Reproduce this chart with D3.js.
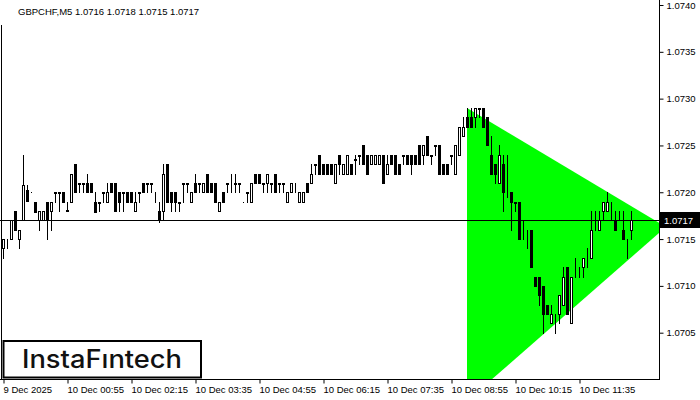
<!DOCTYPE html>
<html><head><meta charset="utf-8">
<script src="https://cdn.jsdelivr.net/npm/d3@7"></script>
<style>
html,body{margin:0;padding:0;background:#fff;}
svg{display:block;}
</style></head>
<body>
<svg id="c" width="700" height="400"></svg>
<script>
const symbolTitle = "GBPCHF,M5  1.0716 1.0718 1.0715 1.0717";
const openP = [
1.0714,1.07141,1.0715,1.0718,1.0715,1.0717,1.07202,1.072,1.0719,1.0717,
1.0717,1.0719,1.0718,1.072,1.072,1.072,1.07181,1.0719,1.0723,1.0721,
1.07209,1.0721,1.0721,1.0719,1.0719,1.072,1.0719,1.0721,1.0721,1.072,
1.072,1.072,1.072,1.0718,1.072,1.0721,1.0721,1.07209,1.0719,1.0718,
1.0718,1.0723,1.072,1.072,1.0719,1.0721,1.0721,1.0719,1.0721,1.0721,
1.072,1.0722,1.0721,1.0721,1.0718,1.072,1.0721,1.0721,1.0721,1.0721,
1.0719,1.072,1.0719,1.0722,1.0722,1.0721,1.0721,1.0721,1.0722,1.0721,
1.0721,1.0719,1.072,1.07205,1.0719,1.0719,1.0721,1.0721,1.0723,1.0724,
1.0723,1.0723,1.0723,1.0721,1.0724,1.0722,1.0722,1.0723,1.07235,1.0724,
1.0725,1.0724,1.0723,1.0723,1.0723,1.0724,1.0722,1.0724,1.0724,1.0723,
1.0724,1.0724,1.0724,1.0724,1.0725,1.0724,1.0726,1.0724,1.0725,1.0725,
1.0723,1.0723,1.0724,1.0722,1.0724,1.0726,1.0728,1.0728,1.0728,1.0729,
1.0729,1.0728,1.0724,1.0723,1.0721,1.0723,1.0721,1.072,1.0719,1.0719,
1.07167,1.07155,1.0716,1.0711,1.0711,1.071,1.0708,1.0706,1.0706,1.0707,
1.0708,1.0712,1.0706,1.0712,1.0712,1.0712,1.0712,1.0713,1.0717,1.0716,
1.0718,1.0718,1.0718,1.0717,1.0717,1.0716,1.0715,1.0716];
const highP = [
1.0715,1.0715,1.0717,1.0718,1.0716,1.0724,1.07208,1.072,1.0719,1.0718,
1.0718,1.0719,1.0719,1.072,1.072,1.072,1.0719,1.0722,1.0723,1.0721,
1.0721,1.0722,1.0721,1.072,1.0719,1.072,1.0721,1.0721,1.0721,1.072,
1.072,1.072,1.072,1.072,1.072,1.0721,1.0721,1.0721,1.072,1.0719,
1.0723,1.0723,1.072,1.072,1.0719,1.0721,1.0721,1.072,1.0722,1.0721,
1.0721,1.0722,1.0721,1.0721,1.0719,1.072,1.0721,1.0722,1.0722,1.0721,
1.0719,1.072,1.0721,1.0722,1.0722,1.0721,1.0722,1.0721,1.0722,1.0721,
1.0721,1.072,1.0721,1.0721,1.072,1.072,1.0721,1.0723,1.0723,1.0724,
1.0723,1.0723,1.0723,1.0723,1.0724,1.0723,1.0724,1.0723,1.0724,1.0724,
1.0725,1.0724,1.0724,1.0724,1.0724,1.0724,1.0724,1.0724,1.0724,1.0723,
1.0724,1.0724,1.0724,1.0724,1.0725,1.0725,1.0726,1.0724,1.0725,1.0725,
1.0723,1.0723,1.0724,1.0725,1.0727,1.0728,1.0729,1.0729,1.0729,1.0729,
1.0729,1.0728,1.0726,1.0723,1.0725,1.0724,1.0724,1.072,1.0719,1.0719,
1.0717,1.0716,1.0716,1.0711,1.0711,1.071,1.0708,1.0708,1.0707,1.0709,
1.0712,1.0712,1.0711,1.0713,1.0712,1.0713,1.0714,1.0718,1.0718,1.0718,
1.0719,1.072,1.0719,1.0718,1.0718,1.0718,1.0715,1.0718];
const lowP = [
1.0713,1.0714,1.0715,1.0716,1.0714,1.0717,1.07191,1.072,1.07179,1.0716,
1.0717,1.0715,1.0716,1.0719,1.0718,1.0719,1.0718,1.0719,1.072,1.072,
1.072,1.072,1.072,1.07179,1.0718,1.0719,1.0719,1.072,1.0718,1.0718,
1.0718,1.0719,1.0719,1.0718,1.0719,1.072,1.072,1.072,1.0719,1.07168,
1.0717,1.0719,1.0718,1.0718,1.0718,1.0719,1.072,1.0719,1.072,1.072,
1.072,1.072,1.072,1.0719,1.0718,1.0719,1.072,1.072,1.072,1.072,
1.0719,1.0719,1.0719,1.0721,1.0721,1.072,1.072,1.072,1.072,1.072,
1.072,1.0719,1.072,1.072,1.0719,1.0719,1.072,1.0721,1.0722,1.0722,
1.0722,1.0722,1.0722,1.0721,1.0722,1.0722,1.0722,1.0722,1.0722,1.0723,
1.0723,1.0722,1.0723,1.0723,1.0723,1.0721,1.0722,1.0723,1.0722,1.0722,
1.0723,1.0723,1.0722,1.0723,1.0723,1.0723,1.0724,1.0723,1.0724,1.0722,
1.0722,1.0722,1.0723,1.0722,1.0724,1.0726,1.0727,1.0727,1.0727,1.0728,
1.0727,1.0725,1.0722,1.0721,1.0721,1.0718,1.07195,1.0716,1.0718,1.0715,
1.0715,1.0714,1.0712,1.071,1.0708,1.0705,1.0707,1.0706,1.0705,1.0706,
1.0708,1.0707,1.0706,1.0711,1.0711,1.0711,1.0712,1.0713,1.0716,1.0716,
1.0717,1.0718,1.0717,1.0716,1.0717,1.0715,1.0713,1.0715];
const closeP = [
1.0715,1.07141,1.0717,1.0716,1.0716,1.07208,1.07191,1.072,1.07179,1.0718,
1.0718,1.0717,1.0719,1.07199,1.07199,1.0719,1.0718,1.0722,1.072,1.07209,
1.0721,1.072,1.072,1.07179,1.07189,1.07199,1.072,1.072,1.0718,1.0719,
1.07199,1.0719,1.0719,1.0719,1.07199,1.072,1.07209,1.0721,1.0719,1.0717,
1.0722,1.0719,1.0719,1.0719,1.07189,1.07209,1.07209,1.072,1.072,1.07209,
1.0721,1.072,1.072,1.0719,1.0719,1.0719,1.07209,1.0721,1.07209,1.07209,
1.0719,1.07199,1.0721,1.0721,1.0721,1.07209,1.0722,1.07209,1.072,1.07209,
1.07209,1.072,1.0721,1.07205,1.072,1.072,1.072,1.0722,1.07229,1.0722,
1.0722,1.0722,1.0722,1.0723,1.0723,1.0723,1.0724,1.0722,1.07234,1.07239,
1.0723,1.0722,1.0724,1.0724,1.0724,1.0721,1.0723,1.0723,1.0722,1.0722,
1.07239,1.0723,1.0723,1.0723,1.0723,1.0725,1.0724,1.07239,1.07249,1.0722,
1.0722,1.0722,1.07239,1.0725,1.0727,1.0727,1.0727,1.0727,1.0729,1.07289,
1.0727,1.0725,1.0722,1.0722,1.0724,1.072,1.0721,1.0719,1.07189,1.0715,
1.07167,1.07155,1.0712,1.071,1.0709,1.0707,1.0707,1.0707,1.0706,1.0709,
1.0711,1.0707,1.0711,1.0712,1.0712,1.0713,1.0712,1.0716,1.0717,1.0717,
1.0719,1.0719,1.0718,1.0716,1.0717,1.0715,1.0715,1.0717];

const timeTickBars = [0, 16, 32, 48, 64, 80, 96, 112, 128, 144];
const timeTickLabels = ["9 Dec 2025","10 Dec 00:55","10 Dec 02:15","10 Dec 03:35","10 Dec 04:55",
  "10 Dec 06:15","10 Dec 07:35","10 Dec 08:55","10 Dec 10:15","10 Dec 11:35"];
const priceTicks = [1.0705,1.0710,1.0715,1.0720,1.0725,1.0730,1.0735,1.0740];
const currentPrice = 1.0717;
const triangleBars = [116, 165.75, 116];
const trianglePrices = [1.0729, 1.07163, 1.06977];
const logoText = "InstaF\u0131ntech";

const W = 700, H = 400, plotR = 659, plotB = 379;
const svg = d3.select("#c");
const x = d3.scaleLinear().domain([-0.75, 164]).range([0, plotR]);
const y = d3.scaleLinear().domain([1.0700, 1.0740]).range([379.5, 5]);
const FONT = "'Liberation Sans', Arial, sans-serif";

svg.append("rect").attr("width", W).attr("height", H).attr("fill", "#fff");
svg.append("defs").append("clipPath").attr("id","plot")
  .append("rect").attr("x",0).attr("y",0).attr("width",plotR).attr("height",plotB);

// triangle pattern
const triPts = triangleBars.map((b,i)=>[x(b), y(trianglePrices[i])]);
svg.append("g").attr("clip-path","url(#plot)")
  .append("path")
  .attr("d", d3.line()(triPts) + "Z")
  .attr("fill", "#00ff00");

// candles
const n = openP.length;
const data = d3.range(n).map(i=>({i, o:openP[i], h:highP[i], l:lowP[i], c:closeP[i]}));
const cg = svg.append("g").attr("clip-path","url(#plot)");
data.forEach(d=>{
  const cx = Math.round(x(d.i)) + 0.5;
  const yh = Math.round(y(d.h)), yl = Math.round(y(d.l));
  cg.append("line").attr("x1",cx).attr("x2",cx)
    .attr("y1",yh).attr("y2",yl+1)
    .attr("stroke","#000").attr("stroke-width",1);
  const top = Math.round(y(Math.max(d.o,d.c)));
  const bot = Math.round(y(Math.min(d.o,d.c)));
  cg.append("rect").attr("x",cx-1).attr("y",top+0.5)
    .attr("width",2).attr("height",Math.max(0,bot-top))
    .attr("fill", d.c < d.o ? "#000" : "#fff")
    .attr("stroke","#000").attr("stroke-width",1);
});

// current price line
const yc = Math.round(y(currentPrice)) + 0.5;
svg.append("line").attr("x1",0).attr("x2",plotR).attr("y1",yc).attr("y2",yc)
  .attr("stroke","#000").attr("stroke-width",1);

// frame lines
svg.append("line").attr("x1",1.5).attr("x2",1.5).attr("y1",25).attr("y2",plotB)
  .attr("stroke","#000");
svg.append("line").attr("x1",plotR+0.5).attr("x2",plotR+0.5).attr("y1",0).attr("y2",plotB+1)
  .attr("stroke","#000");
svg.append("line").attr("x1",0).attr("x2",plotR+1).attr("y1",plotB+0.5).attr("y2",plotB+0.5)
  .attr("stroke","#000");

// right axis
const ya = d3.axisRight(y).tickValues(priceTicks.concat([1.0740]).filter((v,i,a)=>a.indexOf(v)===i))
  .tickSize(4).tickSizeOuter(0).tickPadding(3).tickFormat(d3.format(".4f"));
const yg = svg.append("g").attr("transform",`translate(${plotR+0.5},0)`).call(ya);
yg.select(".domain").remove();
yg.selectAll(".tick line").attr("stroke","#000");
yg.selectAll(".tick text").attr("fill","#000").style("font-family",FONT).style("font-size","9.5px");

// price label
svg.append("rect").attr("x",plotR+1).attr("y",yc-8.5).attr("width",W-plotR-1).attr("height",16)
  .attr("fill","#000");
svg.append("text").attr("x",664).attr("y",yc+3.5).text(d3.format(".4f")(currentPrice))
  .attr("fill","#fff").style("font-family",FONT).style("font-size","9.5px");

// bottom axis
const xa = d3.axisBottom(x).tickValues(timeTickBars)
  .tickFormat((d,i)=>timeTickLabels[i]).tickSize(4).tickSizeOuter(0);
const xg = svg.append("g").attr("transform",`translate(0.5,${plotB+0.5})`).call(xa);
xg.select(".domain").remove();
xg.selectAll(".tick line").attr("stroke","#000");
xg.selectAll(".tick text").attr("text-anchor","start").attr("x",-0.5).attr("y",7)
  .attr("fill","#000").style("font-family",FONT).style("font-size","9.5px");

// title
svg.append("text").attr("x",18).attr("y",15).text(symbolTitle)
  .attr("fill","#000").style("font-family",FONT).style("font-size","9.5px");

// logo
svg.append("rect").attr("x",3.5).attr("y",341).attr("width",197.5).attr("height",36.5)
  .attr("fill","#fff").attr("stroke","#000").attr("stroke-width",2);
svg.append("text").attr("x",22).attr("y",368).text(logoText)
  .attr("textLength",160).attr("lengthAdjust","spacingAndGlyphs")
  .attr("fill","#111").style("font-family","Inter, 'Noto Sans', sans-serif")
  .style("font-size","25px").style("font-weight","500");
</script>
</body></html>
